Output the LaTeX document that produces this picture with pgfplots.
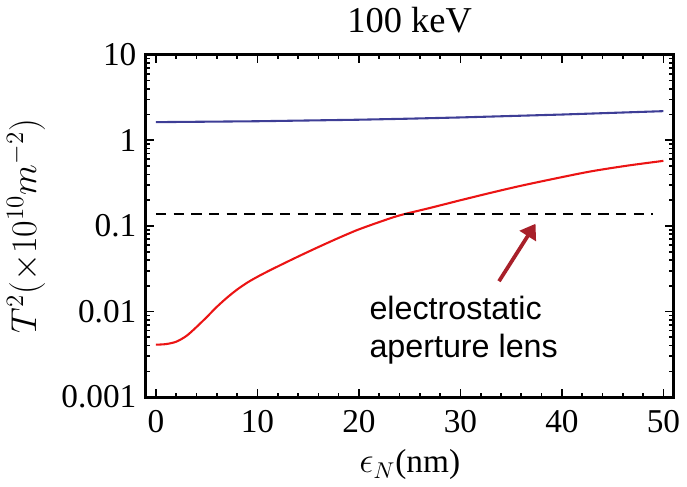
\documentclass[border=0pt]{standalone}
\usepackage{pgfplots}
\pgfplotsset{compat=1.18}
\usepackage{fontspec}
\setmainfont{Liberation Serif}
\newfontfamily\arial{Liberation Sans}
\usetikzlibrary{arrows.meta}
\definecolor{myblue}{RGB}{62,62,150}
\definecolor{myred}{RGB}{235,20,20}
\definecolor{arrowred}{RGB}{168,32,42}
\begin{document}
\begin{tikzpicture}
\begin{axis}[
  scale only axis,
  width=253.5pt, height=164.5pt,
  xmin=-1, xmax=51,
  ymode=log, ymin=0.001, ymax=10,
  xtick={0,10,20,30,40,50},
  minor x tick num=4,
  ytick={0.001,0.01,0.1,1,10},
  yticklabels={0.001,0.01,0.1,1,10},
  tick align=inside,
  major tick length=4pt, minor tick length=2pt,
  axis line style={line width=1.3pt},
  every tick/.style={black, line width=0.8pt},
  ticklabel style={font=\fontsize{16}{18}\selectfont},
  xticklabel style={yshift=-3pt},
  yticklabel style={xshift=-1pt},
  /pgf/number format/assume math mode=true,
  title={\fontsize{17.5}{20}\selectfont 100 keV},
  title style={yshift=1pt},
  xlabel={\fontsize{16}{18}\selectfont $\epsilon_N$(nm)},
  xlabel style={yshift=-1pt},
  ylabel={\fontsize{18.5}{20}\selectfont $T^2(\times 10^{10} m^{-2})$},
  ylabel style={yshift=1pt},
]
\addplot[myblue, line width=1pt] coordinates {
(0,1.63) (10,1.67) (20,1.74) (25,1.79) (30,1.85) (40,2.0) (50,2.19)};
\addplot[myred, line width=1pt, smooth] coordinates {
(0,0.00410) (1,0.004169) (2,0.004446) (3,0.005188) (4,0.006607) (5,0.008610) (6,0.011350) (7,0.014521) (8,0.018072) (9,0.021777) (10,0.025468) (11,0.029376) (12,0.033651) (13,0.038459) (14,0.043853) (15,0.049888) (16,0.056624) (17,0.064121) (18,0.072444) (19,0.081470) (20,0.091201) (22,0.1109) (24,0.1327) (27,0.1622) (30,0.1995) (33,0.2438) (36,0.2951) (40,0.3715) (43,0.4365) (46.5,0.5070) (50,0.5754)};
\addplot[black, line width=1pt, dash pattern=on 5pt off 3.5pt] coordinates {(0,0.137) (49,0.137)};
\draw[arrowred, line width=1.8pt, -{Triangle[width=9pt,length=7pt]}] (axis cs:33.8,0.0226) -- (axis cs:37.4,0.106);
\node[anchor=north west, align=left, inner sep=0pt, font=\arial\fontsize{15.5}{18}\selectfont] at (axis cs:21,0.0152) {electrostatic\\aperture lens};
\end{axis}
\end{tikzpicture}
\end{document}
